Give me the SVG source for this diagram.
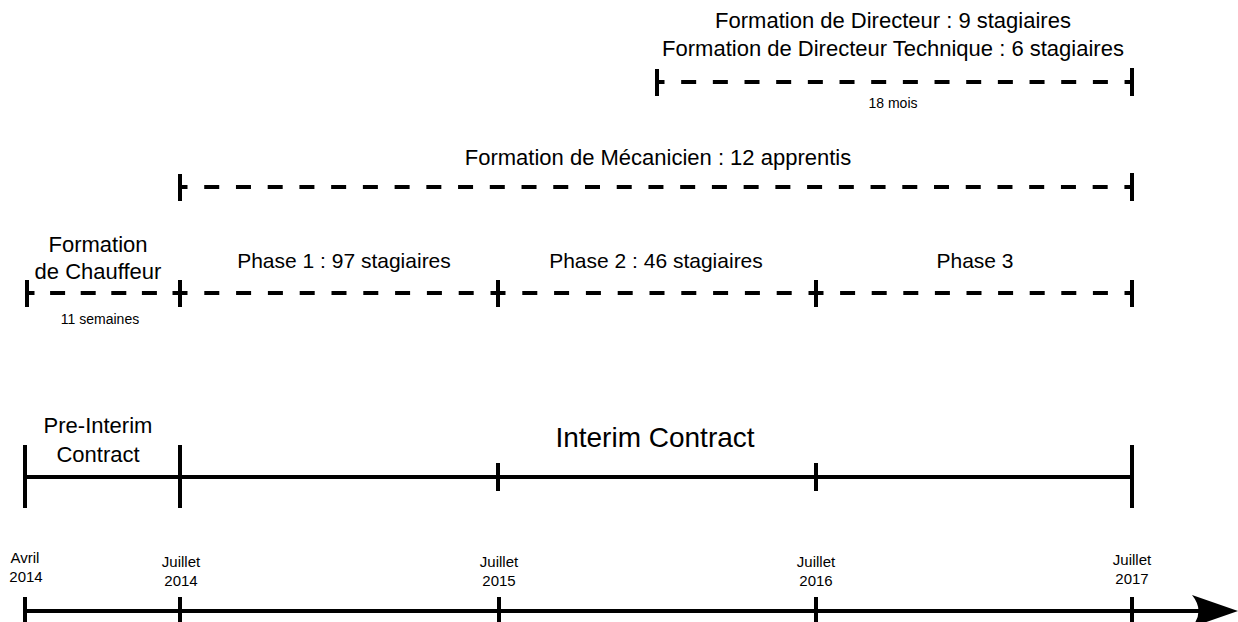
<svg xmlns="http://www.w3.org/2000/svg" width="1238" height="622" viewBox="0 0 1238 622">
<style>
text{font-family:"Liberation Sans",Arial,sans-serif;fill:#000;text-anchor:middle}
.t22{font-size:22px}
.t21{font-size:21px}
.t28{font-size:28px}
.t14{font-size:15px}
.t13{font-size:14px}
.solid{stroke:#000;stroke-width:4;fill:none}
.dash{stroke:#000;stroke-width:4;fill:none;stroke-dashoffset:7.5}
</style>
<rect width="1238" height="622" fill="#fff"/>
<g id="directeur">
<text class="t22" x="893" y="28">Formation de Directeur : 9 stagiaires</text>
<text class="t22" x="893" y="56">Formation de Directeur Technique : 6 stagiaires</text>
<text class="t13" x="893" y="108">18 mois</text>
</g>
<g id="mecanicien">
<text class="t22" x="658" y="165">Formation de Mécanicien : 12 apprentis</text>
</g>
<g id="chauffeur">
<text class="t22" x="98" y="252">Formation</text>
<text class="t22" x="98" y="279">de Chauffeur</text>
<text class="t13" x="100" y="324">11 semaines</text>
</g>
<g id="phase1"><text class="t21" x="344" y="268">Phase 1 : 97 stagiaires</text></g>
<g id="phase2"><text class="t21" x="656" y="268">Phase 2 : 46 stagiaires</text></g>
<g id="phase3"><text class="t21" x="975" y="268">Phase 3</text></g>
<g id="pre-interim">
<text class="t22" x="98" y="433">Pre-Interim</text>
<text class="t22" x="98" y="462">Contract</text>
</g>
<g id="interim"><text class="t28" x="655" y="447">Interim Contract</text></g>
<g id="dates">
<text class="t14" x="25" y="563">Avril</text><text class="t14" x="26" y="582">2014</text>
<text class="t14" x="181" y="567">Juillet</text><text class="t14" x="181" y="586">2014</text>
<text class="t14" x="499" y="567">Juillet</text><text class="t14" x="499" y="586">2015</text>
<text class="t14" x="816" y="567">Juillet</text><text class="t14" x="816" y="586">2016</text>
<text class="t14" x="1132" y="565">Juillet</text><text class="t14" x="1132" y="584">2017</text>
</g>
<g id="connectors">
<line class="dash" x1="657" y1="82" x2="1132" y2="82" stroke-dasharray="15 16.67"/>
<line class="solid" x1="657" y1="69" x2="657" y2="96"/>
<line class="solid" x1="1132" y1="68" x2="1132" y2="96"/>
<line class="dash" x1="180" y1="187" x2="1132" y2="187" stroke-dasharray="15 16.73"/>
<line class="solid" x1="180" y1="174" x2="180" y2="201"/>
<line class="solid" x1="1132" y1="173" x2="1132" y2="201"/>
<line class="dash" x1="27" y1="293" x2="180" y2="293" stroke-dasharray="15 15.6"/>
<line class="dash" x1="180" y1="293" x2="498" y2="293" stroke-dasharray="15 16.8"/>
<line class="dash" x1="498" y1="293" x2="816" y2="293" stroke-dasharray="15 16.8"/>
<line class="dash" x1="816" y1="293" x2="1132" y2="293" stroke-dasharray="15 16.6"/>
<line class="solid" x1="27" y1="280" x2="27" y2="307"/>
<line class="solid" x1="180" y1="280" x2="180" y2="307"/>
<line class="solid" x1="498" y1="280" x2="498" y2="307"/>
<line class="solid" x1="816" y1="280" x2="816" y2="307"/>
<line class="solid" x1="1132" y1="280" x2="1132" y2="307"/>
<line class="solid" x1="25" y1="477" x2="1132" y2="477"/>
<line class="solid" x1="25" y1="445" x2="25" y2="508"/>
<line class="solid" x1="180" y1="445" x2="180" y2="508"/>
<line class="solid" x1="498" y1="463" x2="498" y2="491"/>
<line class="solid" x1="816" y1="463" x2="816" y2="491"/>
<line class="solid" x1="1132" y1="445" x2="1132" y2="508"/>
<line class="solid" x1="25" y1="611" x2="1205" y2="611"/>
<path d="M1192,595 L1238,611 L1192,627 Q1205,611 1192,595 Z" fill="#000"/>
<line class="solid" x1="25" y1="597" x2="25" y2="622"/>
<line class="solid" x1="180" y1="597" x2="180" y2="622"/>
<line class="solid" x1="499" y1="597" x2="499" y2="622"/>
<line class="solid" x1="816" y1="597" x2="816" y2="622"/>
<line class="solid" x1="1132" y1="597" x2="1132" y2="622"/>
</g>
</svg>
